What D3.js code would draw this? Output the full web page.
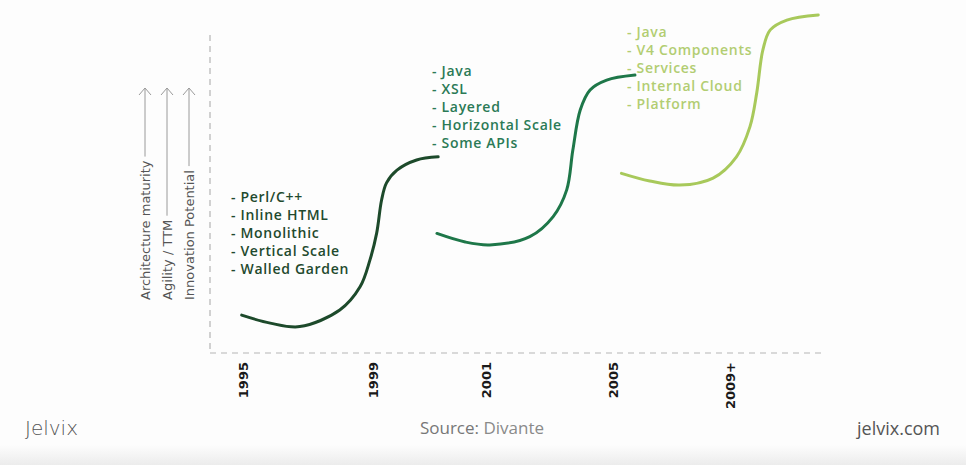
<!DOCTYPE html>
<html lang="en">
<head>
  <meta charset="UTF-8">
  <title>Architecture evolution</title>
  <style>
    body {
      margin: 0;
      padding: 0;
      background: #fdfdfd;
    }
    svg text { font-family: "Open Sans", sans-serif; }
  </style>
</head>
<body>
<svg width="966" height="465"></svg>
<script src="https://d3js.org/d3.v7.min.js"></script>
<script>
// ---- data ----
const years = ["1995", "1999", "2001", "2005", "2009+"];
const yearPos = [5.4, 26.5, 44.9, 65.5, 84.6];

const axisLabels = ["Architecture maturity", "Agility / TTM", "Innovation Potential"];

const stage1 = [[5.15, 11.9], [9.8, 9.4], [14.6, 8.3], [21.1, 13.5], [24.4, 20.8], [26.0, 29.2],
  [27.1, 37.7], [27.9, 48.1], [28.7, 53.5], [30.4, 57.5], [33.6, 60.7], [37.1, 61.7]];
const stage2 = [[36.9, 37.6], [41.5, 34.9], [45.5, 34.0], [52.0, 36.6], [55.8, 42.9], [58.0, 51.3],
  [59.0, 63.8], [60.2, 76.4], [61.8, 82.7], [64.5, 85.8], [69.1, 87.4]];
const stage3 = [[66.9, 56.5], [71.5, 54.1], [76.4, 52.8], [81.8, 55.0], [85.6, 61.7], [87.8, 71.2],
  [88.9, 81.8], [89.9, 95.3], [91.1, 101.6], [93.8, 104.7], [98.9, 106.3]];

const notes1 = ["- Perl/C++", "- Inline HTML", "- Monolithic", "- Vertical Scale", "- Walled Garden"];
const notes2 = ["- Java", "- XSL", "- Layered", "- Horizontal Scale", "- Some APIs"];
const notes3 = ["- Java", "- V4 Components", "- Services", "- Internal Cloud", "- Platform"];

const stages = [
  {pts: stage1, notes: notes1, color: "#1d4a2b", text: "#1f4a2e", at: [3.4, 49]},
  {pts: stage2, notes: notes2, color: "#1e7749", text: "#2b7a56", at: [36.1, 88.5]},
  {pts: stage3, notes: notes3, color: "#a8c95b", text: "#b2cd72", at: [67.8, 100.8]}
];

// ---- layout ----
const svg = d3.select("svg");
const x = d3.scaleLinear().domain([0, 100]).range([210, 825]);
const y = d3.scaleLinear().domain([0, 100]).range([353, 35]);

// background bands
svg.append("rect").attr("width", 966).attr("height", 465).attr("fill", "#fdfdfd");
const grad = svg.append("defs").append("linearGradient")
  .attr("id", "foot").attr("x1", 0).attr("x2", 0).attr("y1", 0).attr("y2", 1);
grad.append("stop").attr("offset", "0%").attr("stop-color", "#fdfdfd");
grad.append("stop").attr("offset", "100%").attr("stop-color", "#ececec");
svg.append("rect").attr("y", 445).attr("width", 966).attr("height", 20).attr("fill", "url(#foot)");

// dashed axes
svg.append("line")
  .attr("x1", x(0)).attr("x2", x(0)).attr("y1", 35).attr("y2", y(0))
  .attr("stroke", "#b5b5b5").attr("stroke-width", 1.2).attr("stroke-dasharray", "6,5");
svg.append("line")
  .attr("x1", x(0)).attr("x2", x(100)).attr("y1", y(0)).attr("y2", y(0))
  .attr("stroke", "#b5b5b5").attr("stroke-width", 1.2).attr("stroke-dasharray", "6,5");

// year labels
svg.selectAll("text.year")
  .data(years)
  .join("text")
  .attr("class", "year")
  .attr("transform", (d, i) => `translate(${x(yearPos[i]) + 5},${y(0) + 9}) rotate(-90)`)
  .attr("text-anchor", "end")
  .attr("font-size", 13)
  .attr("font-weight", 700)
  .attr("fill", "#1a1a1a")
  .style("font-family", "'DejaVu Sans', sans-serif")
  .text(d => d);

// y axis labels with arrows
const labelX = [145, 167, 189];
axisLabels.forEach((t, i) => {
  const g = svg.append("g").attr("transform", `translate(${labelX[i]},300)`);
  const txt = g.append("text")
    .attr("transform", "rotate(-90)")
    .attr("dy", "0.35em")
    .attr("font-size", 13)
    .attr("fill", "#555")
    .style("font-family", "'DejaVu Sans', sans-serif")
    .text(t);
  const len = txt.node().getComputedTextLength();
  g.append("line")
    .attr("x1", 0).attr("x2", 0).attr("y1", -len - 4).attr("y2", -212)
    .attr("stroke", "#9a9a9a").attr("stroke-width", 1);
  g.append("path")
    .attr("d", "M-6,-205 L0,-212 L6,-205")
    .attr("fill", "none").attr("stroke", "#9a9a9a").attr("stroke-width", 1);
});

// S-curves and notes
const line = d3.line()
  .x(d => x(d[0]))
  .y(d => y(d[1]))
  .curve(d3.curveCatmullRom.alpha(0.5));

stages.forEach(s => {
  svg.append("path")
    .attr("d", line(s.pts))
    .attr("fill", "none")
    .attr("stroke", s.color)
    .attr("stroke-width", 3)
    .attr("stroke-linecap", "round");

  svg.append("g")
    .selectAll("text")
    .data(s.notes)
    .join("text")
    .attr("x", x(s.at[0]))
    .attr("y", (d, i) => y(s.at[1]) + i * 18)
    .attr("dy", "0.35em")
    .attr("font-size", 14)
    .attr("font-weight", 600)
    .attr("letter-spacing", 0.7)
    .attr("fill", s.text)
    .text(d => d);
});

// footer
svg.append("text")
  .attr("x", 25).attr("y", 435)
  .attr("font-size", 20)
  .attr("fill", "#555")
  .style("font-family", "'DejaVu Sans', sans-serif")
  .style("font-weight", 200)
  .text("Jelvix");

const src = svg.append("text")
  .attr("x", 482).attr("y", 434)
  .attr("text-anchor", "middle")
  .attr("font-size", 17)
  .attr("fill", "#777");
src.append("tspan").text("Source: ");
src.append("tspan").attr("fill", "#8a8a8a").text("Divante");

svg.append("text")
  .attr("x", 940).attr("y", 435)
  .attr("text-anchor", "end")
  .attr("font-size", 18)
  .attr("fill", "#555")
  .text("jelvix.com");
</script>
</body>
</html>
